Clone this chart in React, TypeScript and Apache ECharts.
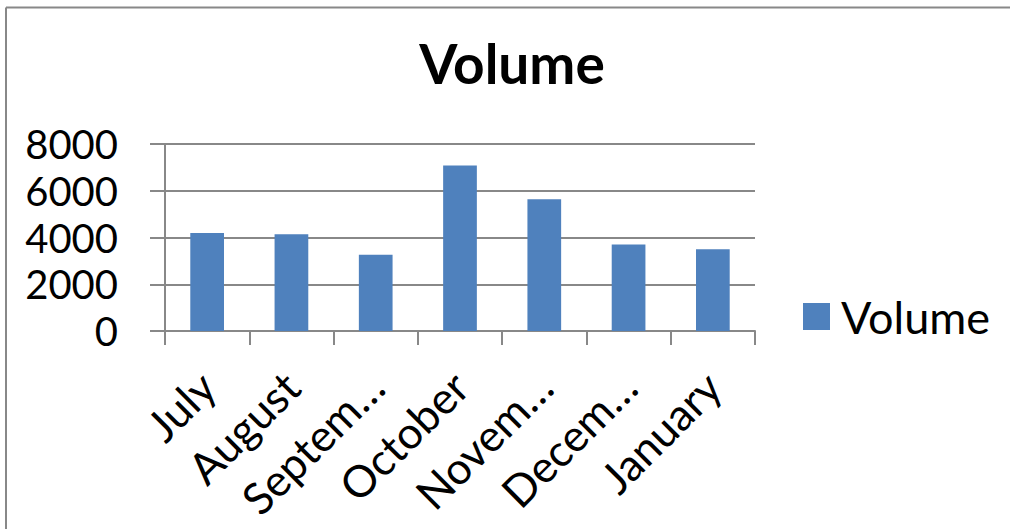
import React, { useEffect, useRef } from "react";
import * as echarts from "echarts";

const categories = ["July", "August", "Septem…", "October", "Novem…", "Decem…", "January"];
const volumeValues = [4190, 4140, 3260, 7080, 5640, 3700, 3500];
const seriesName = "Volume";
const yTicks = { min: 0, max: 8000, interval: 2000 };

const FONT = "Lato, 'Open Sans', sans-serif";
const GRAY = "#888888";

export default function App() {
  const ref = useRef<HTMLDivElement>(null);
  useEffect(() => {
    if (!ref.current) return;
    const chart = echarts.init(ref.current, null, { renderer: "svg" });
    chart.setOption({
      animation: false,
      backgroundColor: "#ffffff",
      textStyle: { fontFamily: FONT, color: "#000" },
      title: {
        text: "Volume",
        left: 507,
        top: 30,
        textAlign: "center",
        textStyle: { fontFamily: FONT, fontSize: 55, fontWeight: "bold", color: "#000" },
      },
      graphic: [
        { type: "line", shape: { x1: 6, y1: 7.5, x2: 1012, y2: 7.5 }, style: { stroke: GRAY, lineWidth: 2 } },
        { type: "line", shape: { x1: 6, y1: 7.5, x2: 6, y2: 531 }, style: { stroke: GRAY, lineWidth: 2 } },
      ],
      legend: {
        data: [seriesName],
        left: 803,
        top: 294,
        padding: 0,
        icon: "rect",
        itemWidth: 27,
        itemHeight: 27,
        textStyle: { fontFamily: FONT, fontSize: 45, color: "#000", padding: [0, 0, 0, 6] },
      },
      grid: { left: 165, right: 255, top: 144, bottom: 198, containLabel: false },
      xAxis: {
        type: "category",
        data: categories,
        axisLine: { lineStyle: { color: GRAY, width: 2 } },
        axisTick: { show: true, length: 14, lineStyle: { color: GRAY, width: 2 } },
        axisLabel: {
          rotate: 45,
          interval: 0,
          margin: 48,
          fontFamily: FONT,
          fontSize: 44,
          color: "#000",
        },
      },
      yAxis: {
        type: "value",
        min: yTicks.min,
        max: yTicks.max,
        interval: yTicks.interval,
        axisLine: { show: true, lineStyle: { color: GRAY, width: 2 } },
        axisTick: { show: true, length: 15, lineStyle: { color: GRAY, width: 2 } },
        splitLine: { show: true, lineStyle: { color: GRAY, width: 2 } },
        axisLabel: {
          margin: 47,
          fontFamily: FONT,
          fontSize: 40,
          color: "#000",
          formatter: (v: number) => String(v),
        },
      },
      series: [
        {
          name: seriesName,
          type: "bar",
          data: volumeValues,
          barWidth: "40%",
          itemStyle: { color: "#4F81BD" },
        },
      ],
    });
    return () => chart.dispose();
  }, []);
  return <div ref={ref} style={{ position: "fixed", left: 0, top: 0, width: 1010, height: 529 }} />;
}
